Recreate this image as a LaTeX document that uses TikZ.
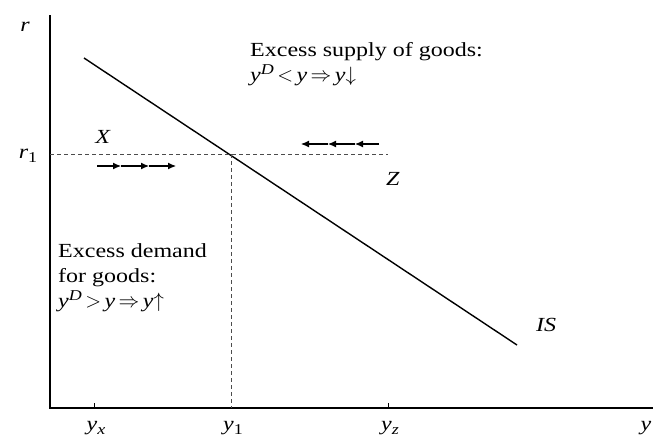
\documentclass[tikz,border=0pt]{standalone}
\usepackage{amsmath}
\usepackage{fontspec}
\setmainfont{Liberation Serif}[FakeStretch=1.2]
\usetikzlibrary{arrows.meta}
\newcommand{\vi}[1]{\textit{#1}}
\newcommand{\supx}[1]{\raisebox{7pt}{\fontsize{15}{15}\selectfont #1}}
\newcommand{\subx}[1]{\raisebox{-4pt}{\fontsize{15}{15}\selectfont #1}}
\begin{document}
\begin{tikzpicture}[x=1pt,y=-1pt,
  lbl/.style={font=\fontsize{20}{25}\selectfont, inner sep=0pt},
  txt/.style={lbl, anchor=base west},
  axisline/.style={line width=1.1pt},
  guide/.style={dash pattern=on 4pt off 3pt, line width=0.7pt, draw=black!70},
  movearrow/.style={-{Latex[length=8pt,width=7pt]}, line width=1.1pt},
  isline/.style={line width=1.4pt}]
\useasboundingbox (0,0) rectangle (653,437);
% axes
\coordinate (O) at (50,408);
\coordinate (top) at (50,15);
\coordinate (right) at (653,408);
\draw[axisline] (top) -- (O) -- (right);
% ticks
\coordinate (tx) at (94,408); \coordinate (tz) at (388,408);
\draw[line width=0.8pt] (tx) -- ++(0,-5);
\draw[line width=0.8pt] (tz) -- ++(0,-5);
% IS curve
\coordinate (isA) at (84,58);
\coordinate (isB) at (517,345);
\draw[isline] (isA) -- (isB);
% guides
\coordinate (E) at (231,154);
\coordinate (r1axis) at (50,154);
\coordinate (gEnd) at (388,154);
\coordinate (y1axis) at (231,408);
\draw[guide] (r1axis) -- (gEnd);
\draw[guide] (E) -- (y1axis);
% arrows right
\coordinate (a0) at (97,166); \coordinate (a1) at (121,166);
\coordinate (a2) at (149,166); \coordinate (a3) at (176,166);
\draw[movearrow] (a0) -- (a1);
\draw[movearrow] (a1) -- (a2);
\draw[movearrow] (a2) -- (a3);
% arrows left
\coordinate (b0) at (379,144); \coordinate (b1) at (355,144);
\coordinate (b2) at (328,144); \coordinate (b3) at (301,144);
\draw[movearrow] (b0) -- (b1);
\draw[movearrow] (b1) -- (b2);
\draw[movearrow] (b2) -- (b3);
% labels
\node[lbl] (lr) at (25,27) {\vi{r}};
\node[lbl] (lr1) at (28,156) {\vi{r}\subx{1}};
\node[lbl] (lX) at (103,137) {\vi{X}};
\node[lbl] (lZ) at (393,179) {\vi{Z}};
\node[lbl] (lIS) at (546,325) {\vi{IS}};
\node[lbl] (lyx) at (96,428) {\vi{y}\subx{\vi{x}}};
\node[lbl] (ly1) at (233,428) {\vi{y}\subx{1}};
\node[lbl] (lyz) at (390,428) {\vi{y}\subx{\vi{z}}};
\node[lbl] (ly) at (646,428) {\vi{y}};
\node[txt] (sup1) at (250,56) {Excess supply of goods:};
\node[txt] (sup2) at (250,81) {\vi{y}\supx{\vi{D}}$\,{<}\,$\vi{y}$\,{\Rightarrow}\,$\vi{y}$\downarrow$};
\node[txt] (dem1) at (58,257) {Excess demand};
\node[txt] (dem2) at (58,282) {for goods:};
\node[txt] (dem3) at (58,307) {\vi{y}\supx{\vi{D}}$\,{>}\,$\vi{y}$\,{\Rightarrow}\,$\vi{y}$\uparrow$};
\end{tikzpicture}
\end{document}
